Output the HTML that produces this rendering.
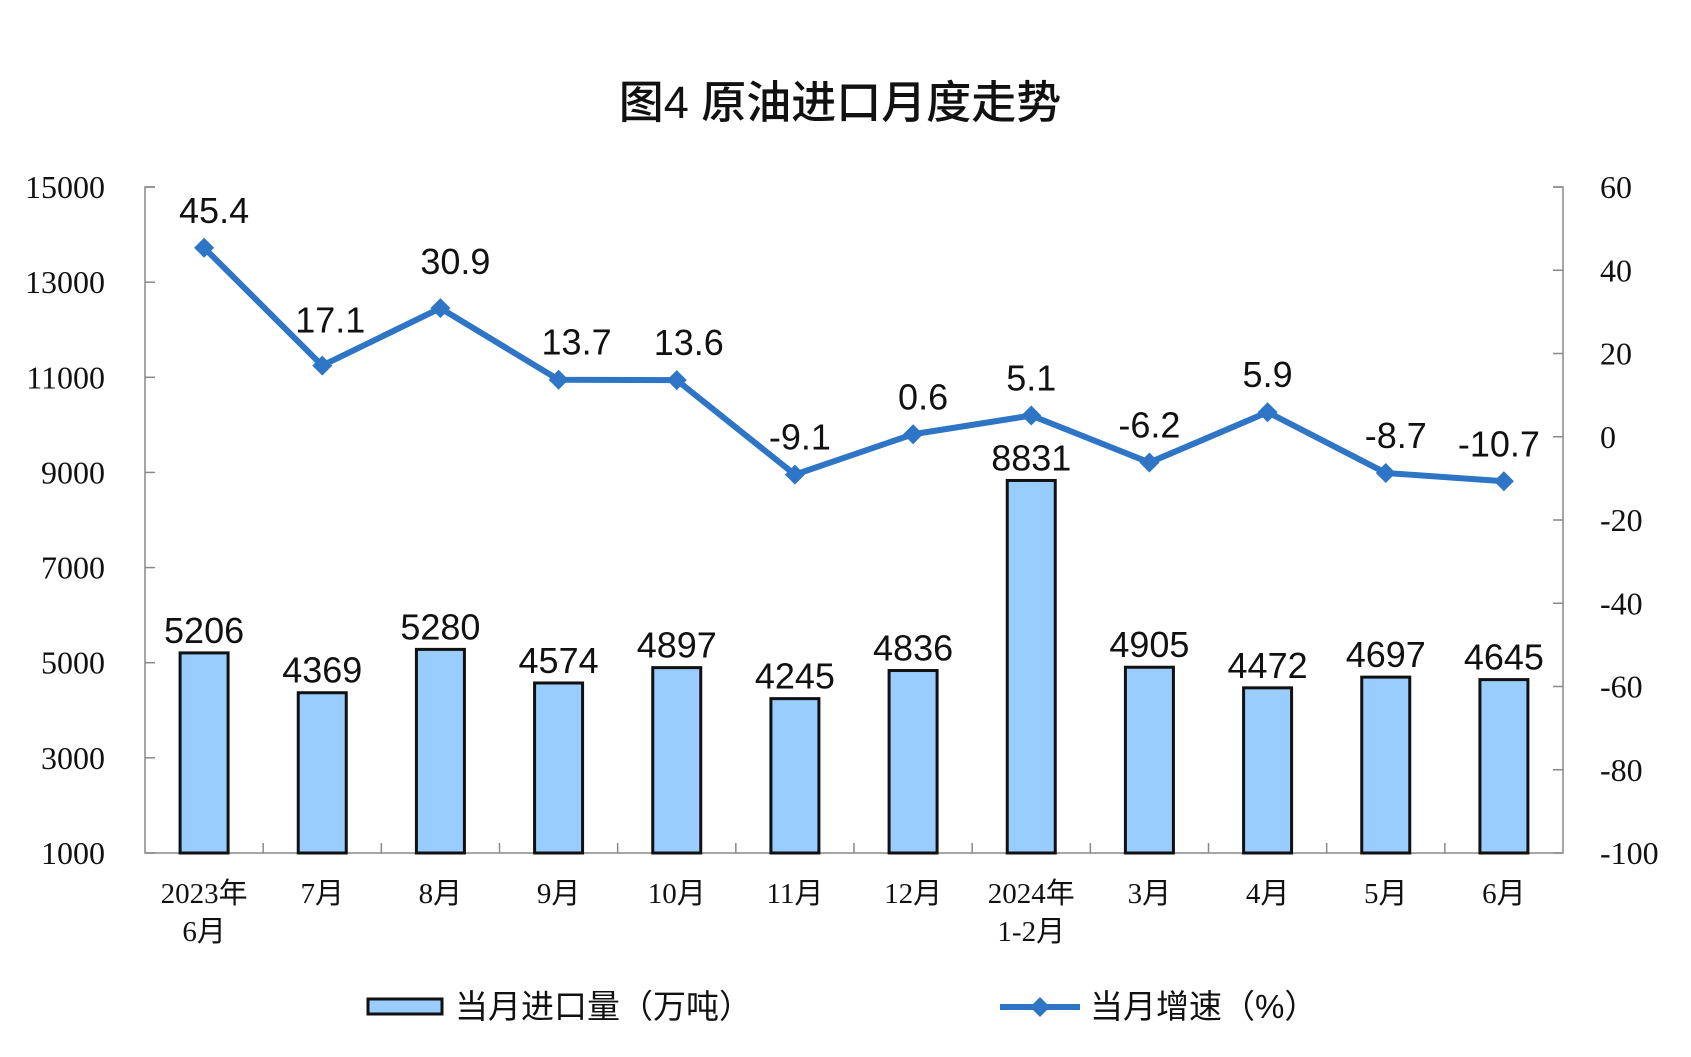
<!DOCTYPE html>
<html><head><meta charset="utf-8"><style>
body{margin:0;background:#fff}
svg{display:block}
.t{font-family:"Liberation Serif","Noto Serif CJK SC",serif;font-size:32px;fill:#111}
.c{font-family:"Liberation Serif","Noto Sans CJK SC",serif;font-size:29px;fill:#111}
.d{font-family:"Liberation Sans",sans-serif;font-size:36px;fill:#111}
.l{font-family:"Liberation Sans","Noto Sans CJK SC",sans-serif;font-size:33px;fill:#111}
</style></head><body>
<svg id="s" width="1691" height="1057" viewBox="0 0 1691 1057" xmlns="http://www.w3.org/2000/svg">
<text x="840" y="118" text-anchor="middle" style="font-family:'Liberation Sans','Noto Sans CJK SC',sans-serif;font-size:45px;font-weight:500;fill:#111">图4  原油进口月度走势</text>
</svg>
<script>
const s=document.getElementById('s'),NS='http://www.w3.org/2000/svg';
function el(t,a,txt){const e=document.createElementNS(NS,t);for(const k in a)e.setAttribute(k,a[k]);if(txt!=null)e.textContent=txt;s.appendChild(e);return e;}
const L=145,R=1563,T=187,B=853,W=(R-L)/12;
const bars=[5206,4369,5280,4574,4897,4245,4836,8831,4905,4472,4697,4645];
const gr=[45.4,17.1,30.9,13.7,13.6,-9.1,0.6,5.1,-6.2,5.9,-8.7,-10.7];
const off=[[10,-25],[8,-33],[15,-34],[18,-25],[12,-25],[5,-25],[10,-25],[0,-25],[0,-25],[0,-25],[10,-25],[-5,-25]];
const cats=[["2023年","6月"],["7月"],["8月"],["9月"],["10月"],["11月"],["12月"],["2024年","1-2月"],["3月"],["4月"],["5月"],["6月"]];
const yL=v=>B-(v-1000)*(B-T)/14000, yR=v=>T+(60-v)*(B-T)/160;
el('path',{d:`M${L+10} ${T}H${L}V${B}H${R}V${T}H${R-10}`,fill:'none',stroke:'#888','stroke-width':1.5});
for(let i=0;i<=7;i++){const y=T+i*(B-T)/7;el('line',{x1:L,x2:L+10,y1:y,y2:y,stroke:'#888','stroke-width':1.5});
el('text',{x:105,y:y+11,'text-anchor':'end',class:'t'},String(15000-2000*i));}
for(let i=0;i<=8;i++){const y=T+i*(B-T)/8;el('line',{x1:R-10,x2:R,y1:y,y2:y,stroke:'#888','stroke-width':1.5});
el('text',{x:1600,y:y+11,'text-anchor':'start',class:'t'},String(60-20*i));}
for(let i=1;i<12;i++){const x=L+i*W;el('line',{x1:x,x2:x,y1:B,y2:B-10,stroke:'#888','stroke-width':1.5});}
bars.forEach((v,i)=>{const cx=L+W*(i+.5),y=yL(v);
el('rect',{x:cx-24,y:y,width:48,height:B-y,fill:'#99CCFF',stroke:'#111','stroke-width':3});
el('text',{x:cx,y:y-10,'text-anchor':'middle',class:'d'},String(v));
cats[i].forEach((c,j)=>el('text',{x:cx,y:903+j*38,'text-anchor':'middle',class:'c'},c));});
const pts=gr.map((v,i)=>[L+W*(i+.5),yR(v)]);
el('polyline',{points:pts.map(p=>p.join(',')).join(' '),fill:'none',stroke:'#2E75C6','stroke-width':6,'stroke-linejoin':'round'});
pts.forEach((p,i)=>{el('path',{d:`M${p[0]} ${p[1]-10}L${p[0]+10} ${p[1]}L${p[0]} ${p[1]+10}L${p[0]-10} ${p[1]}Z`,fill:'#2E75C6'});
el('text',{x:p[0]+off[i][0],y:p[1]+off[i][1],'text-anchor':'middle',class:'d'},String(gr[i]));});
el('rect',{x:368,y:999,width:74,height:15,fill:'#99CCFF',stroke:'#111','stroke-width':3});
el('text',{x:455,y:1018,class:'l'},'当月进口量（万吨）');
el('line',{x1:1000,x2:1080,y1:1007,y2:1007,stroke:'#2E75C6','stroke-width':6});
el('path',{d:'M1040 997L1050 1007L1040 1017L1030 1007Z',fill:'#2E75C6'});
el('text',{x:1090,y:1018,class:'l'},'当月增速（%）');
</script>
</body></html>
